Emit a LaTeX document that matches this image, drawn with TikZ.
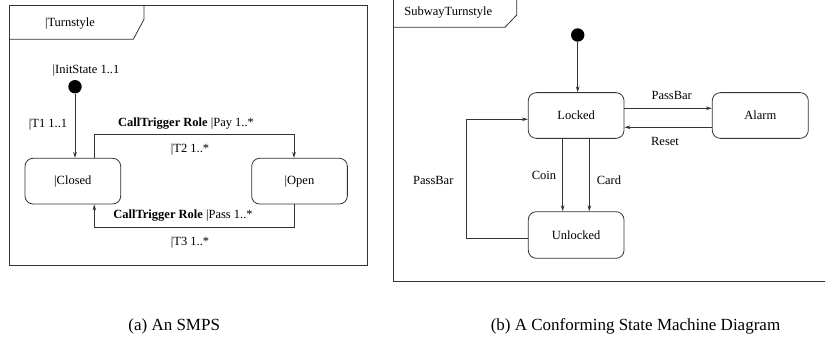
\documentclass[tikz,border=0pt]{standalone}
\usepackage{fontspec}
\setmainfont{Liberation Serif}
\usetikzlibrary{arrows.meta}
\tikzset{
  frameline/.style={draw=black!80, line width=0.8pt},
  statebox/.style={draw=black!80, line width=0.8pt, rounded corners=8pt,
    minimum width=95.7pt, minimum height=45.7pt, inner sep=0pt,
    font=\fontsize{12.5}{14}\selectfont},
  initdot/.style={circle, fill=black, inner sep=0pt, minimum size=13.4pt},
  trans/.style={draw=black!80, line width=0.8pt,
    -{Stealth[length=6pt,width=3.6pt]}},
  lbl/.style={inner sep=0pt, text height=0.7em, text depth=0.2em,
    font=\fontsize{12.5}{14}\selectfont},
  caption/.style={inner sep=0pt, text height=0.7em, text depth=0.2em,
    font=\fontsize{17}{20}\selectfont}
}
\begin{document}
\begin{tikzpicture}[x=1pt,y=-1pt]
\useasboundingbox (0,0) rectangle (825,345);

% ---- (a) SMPS frame ----
\draw[frameline] (9.3,5) rectangle (367.7,265);
\draw[frameline] (9.3,39.3) -- (133.3,39.3) -- (144,19.3) -- (144,5);
\node[lbl] (tabA) at (70,24.3) {|Turnstyle};

\node[initdot] (initA) at (75,86.7) {};
\node[lbl] (initAlbl) at (86,70.7) {|InitState 1..1};

\node[statebox] (closed) at (72.85,181.15) {|Closed};
\node[statebox] (open) at (299.5,181.15) {|Open};

\draw[trans] (initA) -- (initA |- closed.north);
\node[lbl] (t1) at (48,125) {|T1 1..1};

\draw[trans] ([xshift=21.45pt]closed.north) -- ++(0,-23.3) -| ([xshift=-5.5pt]open.north);
\node[lbl] (pay) at (186,124) {\textbf{CallTrigger Role} |Pay 1..*};
\node[lbl] (t2) at (190,150) {|T2 1..*};

\draw[trans] ([xshift=-5.5pt]open.south) -- ++(0,23.3) -| ([xshift=21.45pt]closed.south);
\node[lbl] (pass) at (183,216) {\textbf{CallTrigger Role} |Pass 1..*};
\node[lbl] (t3) at (190,243.3) {|T3 1..*};

% ---- (b) SubwayTurnstyle frame ----
\draw[frameline] (393.3,-2) -- (393.3,281) -- (828,281);
\draw[frameline] (393.3,27.3) -- (505,27.3) -- (516.7,15) -- (516.7,-2);
\node[lbl] (tabB) at (448.3,13.3) {SubwayTurnstyle};

\node[initdot] (initB) at (577.7,35) {};
\node[statebox] (locked) at (576.15,115.5) {Locked};
\node[statebox, minimum width=96pt] (alarm) at (760.3,115.5) {Alarm};
\node[statebox, minimum height=46.6pt] (unlocked) at (576.15,235) {Unlocked};

\draw[trans] (initB) -- (initB |- locked.north);

\draw[trans] ([yshift=7.2pt]locked.east) -- ([yshift=7.2pt]alarm.west);
\node[lbl] (passbarA) at (671.7,97.3) {PassBar};
\draw[trans] ([yshift=-11.8pt]alarm.west) -- ([yshift=-11.8pt]locked.east);
\node[lbl] (reset) at (665,143.3) {Reset};

\draw[trans] ([xshift=-13.45pt]locked.south) -- ([xshift=-13.45pt]unlocked.north);
\node[lbl] (coin) at (544,176.7) {Coin};
\draw[trans] ([xshift=13.15pt]locked.south) -- ([xshift=13.15pt]unlocked.north);
\node[lbl] (card) at (609,181.7) {Card};

\draw[trans] ([yshift=-3.3pt]unlocked.west) -- ++(-61.6,0) |- ([yshift=-3.8pt]locked.west);
\node[lbl] (passbarB) at (433.3,181.7) {PassBar};

% ---- captions ----
\node[caption] (capA) at (174.2,328) {(a) An SMPS};
\node[caption] (capB) at (635.5,328) {(b) A Conforming State Machine Diagram};
\end{tikzpicture}
\end{document}
